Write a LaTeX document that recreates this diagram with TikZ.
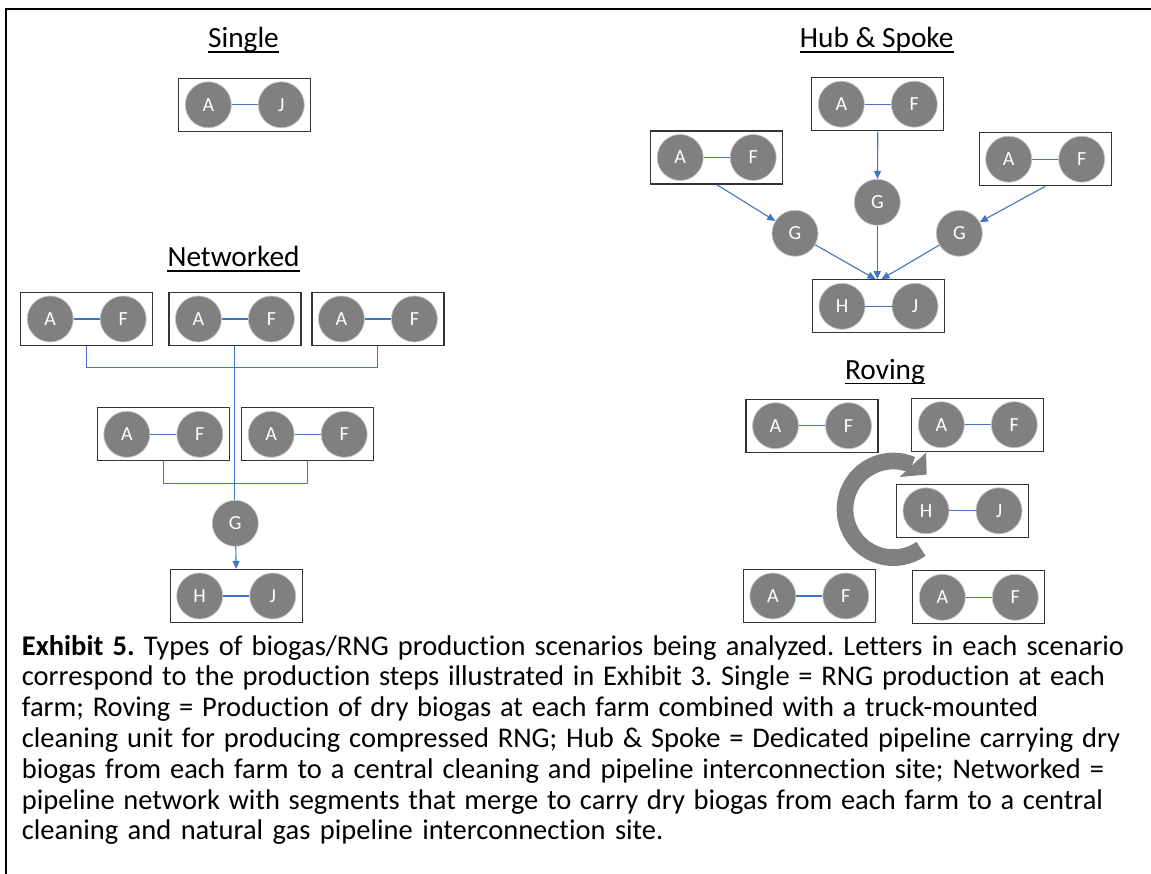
\documentclass[tikz,border=0pt]{standalone}
\usepackage{fontspec}
\setmainfont{Carlito}[Ligatures=CommonOff]
\usetikzlibrary{arrows.meta}
\definecolor{lnblue}{HTML}{4472C4}
\definecolor{circgray}{HTML}{808080}
\definecolor{boxline}{HTML}{333333}
\newcommand\pairbox[5]{%
  \node[boxst] (#1) at (#2,#3) {};
  \node[circ] (#1l) at ([xshift=-36.5pt]#1.center) {#4};
  \node[circ] (#1r) at ([xshift=36.5pt]#1.center) {#5};
  \draw[link] (#1l) -- (#1r);
}
\newcommand\uline[1]{\draw[line width=1.8] ([yshift=-4.2pt]#1.base west) -- ([yshift=-4.2pt]#1.base east);}
\newcommand\capline[2]{\hbox to #1pt{\frenchspacing\spaceskip=.226em plus 1fil minus .06em #2}}
\begin{document}
\begin{tikzpicture}[x=1pt,y=-1pt,
  boxst/.style={draw=boxline, line width=1.3, minimum width=132, minimum height=53, inner sep=0},
  circ/.style={circle, fill=circgray, draw=gray!45, line width=0.7, minimum size=46, inner sep=0,
    text=white, font=\fontsize{20}{24}\selectfont},
  link/.style={draw=lnblue, line width=1.1},
  arr/.style={link, -{Triangle[length=8pt,width=7pt]}},
  titletext/.style={inner sep=0, anchor=base, font=\fontsize{29.3}{34}\selectfont},
  captext/.style={inner sep=0, anchor=base west, font=\fontsize{28.5}{31}\selectfont}
]
\useasboundingbox (0,0) rectangle (1151,874);
\fill[white] (0,0) rectangle (1151,874);
% frame
\draw[line width=2] (5.7,874) -- (5.7,9) -- (1151,9);

% ---- Single
\node[titletext] (tsingle) at (243.5,47.7) {Single};
\uline{tsingle}
\pairbox{s1}{244.8}{104.8}{A}{J}

% ---- Networked
\node[titletext] (tnet) at (233.5,266.7) {Networked};
\uline{tnet}
\pairbox{n1}{86.7}{319}{A}{F}
\pairbox{n2}{234.9}{319}{A}{F}
\pairbox{n3}{377.9}{319}{A}{F}
\pairbox{n4}{163.3}{434.3}{A}{F}
\pairbox{n5}{307.7}{434.3}{A}{F}
\node[circ] (ng) at (235.3,523.3) {G};
\pairbox{nhj}{236.2}{596}{H}{J}
\coordinate (m1) at (0,367.7);
\coordinate (m2) at (0,483.7);
\draw[link] (n1.south) -- (n1.south |- m1) -- (n3.south |- m1) -- (n3.south);
\draw[link] (n4.south) -- (n4.south |- m2) -- (n5.south |- m2) -- (n5.south);
\draw[link] (n2.south) -- (n2.south |- ng.north);
\draw[arr] (ng) -- (nhj.north);

% ---- Hub & Spoke
\node[titletext] (thub) at (876.7,47.7) {Hub \& Spoke};
\uline{thub}
\pairbox{ht}{877.8}{104.2}{A}{F}
\pairbox{hl}{716.7}{157.5}{A}{F}
\pairbox{hr}{1045.2}{159.2}{A}{F}
\node[circ] (gl) at (795,233.3) {G};
\node[circ] (gm) at (877.3,202.3) {G};
\node[circ] (gr) at (959.3,233.3) {G};
\pairbox{hhj}{878.5}{306.3}{H}{J}
\draw[arr] (hl.south) -- (gl);
\draw[arr] (ht.south) -- (gm);
\draw[arr] (hr.south) -- (gr);
\draw[arr] (gl) -- ([xshift=-3pt]hhj.north);
\draw[arr] (gm) -- (gm |- hhj.north);
\draw[arr] (gr) -- ([xshift=3pt]hhj.north);

% ---- Roving
\node[titletext] (trov) at (885,379.3) {Roving};
\uline{trov}
\pairbox{rtl}{812}{425.7}{A}{F}
\pairbox{rtr}{977.8}{424.7}{A}{F}
\pairbox{rbl}{809.3}{596}{A}{F}
\pairbox{rbr}{978.8}{597.3}{A}{F}
\coordinate (rc) at (893.3,509.3);
\draw[circgray, line width=16.7] (rc) ++(-67:48.3) arc[start angle=-67, end angle=-305, radius=48.3];
\fill[circgray] (926,452.7) -- (926.7,474.5) -- (899.5,477) -- cycle;
\pairbox{rhj}{962.5}{510.8}{H}{J}

% ---- caption
\node[captext] (c1) at (21.7,655) {\capline{1102.3}{\textbf{Exhibit 5.} Types of biogas/RNG production scenarios being analyzed. Letters in each scenario}};
\node[captext] (c2) at (21.7,685.8) {\capline{1083.3}{correspond to the production steps illustrated in Exhibit 3. Single = RNG production at each}};
\node[captext] (c3) at (21.7,716.6) {\capline{1016.3}{farm; Roving = Production of dry biogas at each farm combined with a truck-mounted}};
\node[captext] (c4) at (21.7,747.4) {\capline{1098.3}{cleaning unit for producing compressed RNG; Hub \& Spoke = Dedicated pipeline carrying dry}};
\node[captext] (c5) at (21.7,778.2) {\capline{1082.3}{biogas from each farm to a central cleaning and pipeline interconnection site; Networked =}};
\node[captext] (c6) at (21.7,809) {\capline{1081}{pipeline network with segments that merge to carry dry biogas from each farm to a central}};
\node[captext] (c7) at (21.7,839.8) {\capline{641.6}{cleaning and natural gas pipeline interconnection site.}};
\end{tikzpicture}
\end{document}
